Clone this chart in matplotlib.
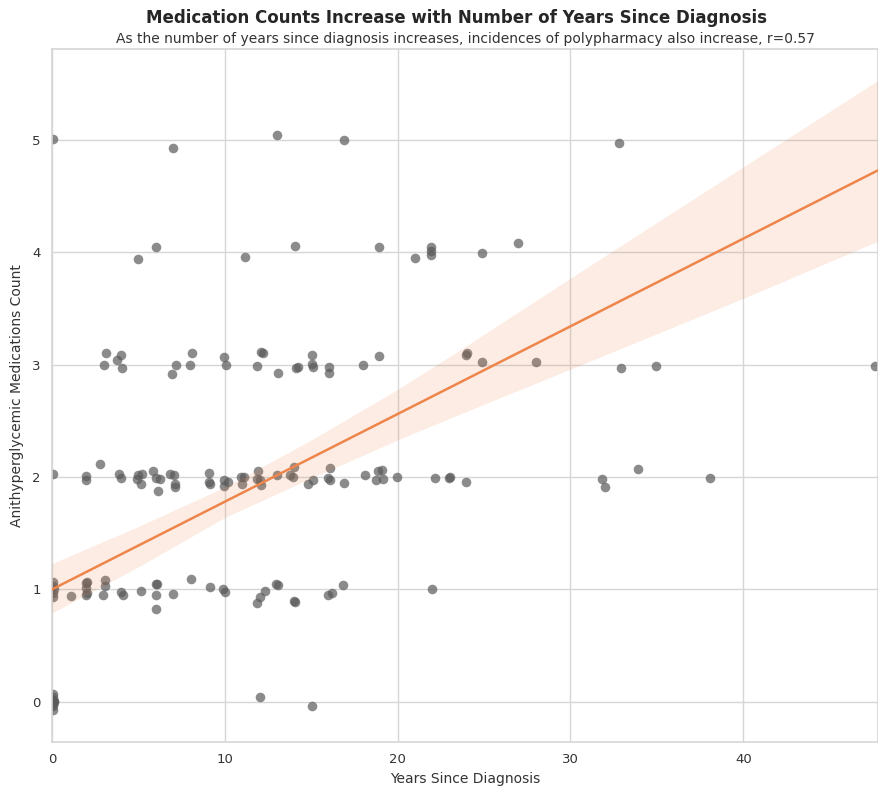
import numpy as np
import matplotlib
matplotlib.use("Agg")
import matplotlib.pyplot as plt
import seaborn as sns

# points as they appear (jittered) in the chart
years = [
    # 0 meds
    0.05, 0.08, 0.10, 0.06, 0.09, 0.05, 0.12, 0.07, 12.02, 15.05,
    # 1 med
    0.07, 0.05, 0.08, 0.06, 0.10, 1.12, 2.00, 2.05, 1.98, 2.02, 1.97,
    3.06, 3.05, 2.98, 3.99, 4.12, 5.16, 6.03, 6.10, 6.03, 6.03, 6.99,
    8.03, 9.13, 9.88, 10.04, 11.89, 12.02, 12.31, 12.99, 13.06, 14.00,
    14.08, 16.00, 16.18, 16.82, 21.97,
    # 2 meds
    0.08, 1.95, 1.95, 2.77, 3.89, 4.00, 5.01, 5.20, 4.93, 5.16, 5.84,
    6.05, 6.24, 6.13, 6.84, 7.09, 7.10, 7.10, 9.07, 9.09, 9.15, 9.96,
    9.94, 10.19, 10.94, 11.14, 11.02, 11.93, 11.87, 12.02, 12.12, 13.02,
    13.79, 13.99, 13.95, 14.84, 15.09, 15.95, 16.09, 16.07, 16.88, 18.13,
    18.88, 19.08, 18.75, 19.13, 19.98, 22.17, 23.04, 23.00, 23.95, 31.85,
    32.00, 33.93, 38.09,
    # 3 meds
    3.13, 3.02, 3.75, 4.02, 4.06, 6.94, 7.20, 7.98, 8.09, 9.95, 10.06,
    11.87, 12.11, 12.20, 13.11, 14.10, 14.26, 15.03, 15.06, 15.10, 16.05,
    16.05, 18.02, 18.95, 23.93, 24.00, 24.90, 28.02, 32.90, 34.97, 47.60,
    # 4 meds
    4.97, 6.00, 11.19, 14.05, 18.95, 20.98, 21.93, 21.93, 21.93, 24.87, 26.94,
    # 5 meds
    0.05, 7.00, 13.00, 16.90, 32.80,
]
meds = [
    0.07, 0.04, 0.01, -0.02, -0.04, -0.07, 0.00, 0.02, 0.04, -0.04,
    1.07, 1.03, 0.97, 0.93, 1.00, 0.94, 1.06, 1.07, 1.01, 0.97, 0.95,
    1.08, 1.03, 0.95, 0.98, 0.95, 0.99, 1.05, 1.05, 0.95, 0.83, 0.96,
    1.09, 1.02, 1.00, 0.98, 0.88, 0.93, 0.99, 1.05, 1.04, 0.90,
    0.89, 0.95, 0.97, 1.04, 1.00,
    2.03, 2.01, 1.97, 2.12, 2.03, 1.99, 2.02, 2.03, 1.98, 1.94, 2.05,
    1.99, 1.98, 1.88, 2.03, 2.02, 1.94, 1.91, 2.04, 1.96, 1.94, 1.97,
    1.92, 1.96, 2.00, 2.00, 1.94, 2.05, 1.98, 1.97, 1.93, 2.02,
    2.02, 2.09, 2.00, 1.94, 1.97, 1.99, 2.08, 1.97, 1.95, 2.02,
    2.05, 2.06, 1.97, 1.98, 2.00, 1.99, 2.00, 1.99, 1.96, 1.98,
    1.91, 2.07, 1.99,
    3.10, 3.00, 3.04, 3.09, 2.97, 2.92, 3.00, 3.00, 3.10, 3.07, 3.00,
    2.99, 3.11, 3.10, 2.93, 2.97, 2.98, 3.09, 3.01, 2.98, 2.98,
    2.93, 3.00, 3.08, 3.09, 3.10, 3.02, 3.02, 2.97, 2.99, 2.99,
    3.94, 4.05, 3.96, 4.06, 4.05, 3.95, 4.05, 4.015, 3.98, 3.99, 4.08,
    5.01, 4.93, 5.04, 5.00, 4.97,
]

# regression line and its confidence band
fit_x = [0, 47.8]
fit_y = [1.0, 4.73]
ci_x = [0, 5, 10, 15, 20, 23.6, 30, 40, 47.8]
ci_hi = [1.23, 1.56, 1.91, 2.33, 2.78, 3.13, 3.77, 4.76, 5.53]
ci_lo = [0.79, 1.20, 1.64, 1.99, 2.33, 2.56, 2.96, 3.59, 4.10]

r_value = 0.57

sns.set_style("whitegrid")
plt.rcParams['font.family'] = ['DejaVu Sans']

fig = plt.figure(figsize=(8.79, 7.88), dpi=100)
ax = fig.add_axes([0.059, 0.058, 0.94, 0.88])

line_color = '#ee854a'
ax.scatter(years, meds, s=48, color='#5a5a5a', alpha=0.7, linewidths=0, zorder=2)
ax.fill_between(ci_x, ci_lo, ci_hi, color=line_color, alpha=0.15, linewidth=0, zorder=3)
ax.plot(fit_x, fit_y, color=line_color, lw=1.8, zorder=4)

ax.set_xlim(0, 47.8)
ax.set_ylim(-0.36, 5.81)
ax.set_xticks([0, 10, 20, 30, 40])
ax.set_yticks([0, 1, 2, 3, 4, 5])
ax.grid(True, color='#d6d6d6', lw=1)
for s in ax.spines.values():
    s.set_color('#d6d6d6')
    s.set_linewidth(1.2)
ax.tick_params(axis='both', length=0, pad=8, labelsize=9.5, colors='#333333')

ax.set_xlabel('Years Since Diagnosis', fontsize=10, color='#333333', labelpad=4)
ax.set_ylabel('Anithyperglycemic Medications Count', fontsize=10, color='#333333', labelpad=6)

fig.suptitle('Medication Counts Increase with Number of Years Since Diagnosis',
             x=0.519, y=0.988, fontsize=12, fontweight='bold', color='#262626')
ax.set_title('As the number of years since diagnosis increases, incidences of '
             'polypharmacy also increase, r=%.2f' % r_value,
             fontsize=10, color='#333333', pad=4)

fig.savefig('out.png', dpi=100)
